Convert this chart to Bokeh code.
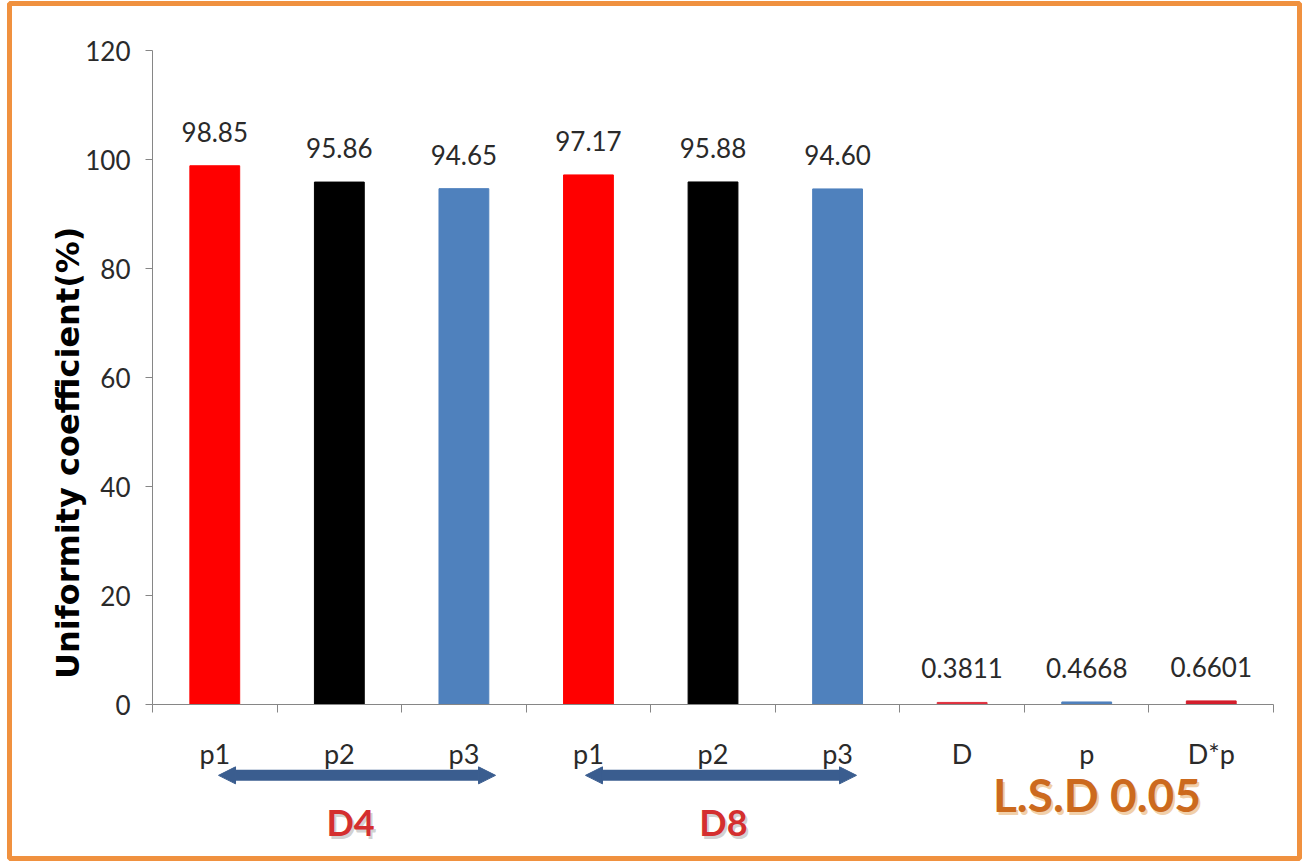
import math
from bokeh.plotting import figure
from bokeh.models import Range1d, FixedTicker, Label, Arrow, NormalHead, LinearAxis, BoxAnnotation
from bokeh.core.properties import value
from bokeh.embed import file_html
from bokeh.resources import INLINE

# ---- data ----
categories = ["p1", "p2", "p3", "p1", "p2", "p3", "D", "p", "D*p"]
uc_values = [98.85, 95.86, 94.65, 97.17, 95.88, 94.60, 0.3811, 0.4668, 0.6601]
value_labels = ["98.85", "95.86", "94.65", "97.17", "95.88", "94.60", "0.3811", "0.4668", "0.6601"]
bar_colors = ["#FF0000", "#000000", "#4F81BD", "#FF0000", "#000000", "#4F81BD",
              "#E0303E", "#4F81BD", "#D41E2C"]
y_ticks = [0, 20, 40, 60, 80, 100, 120]
group_labels = ["D4", "D8"]
lsd_label = "L.S.D  0.05"
y_title = "Uniformity coefficient(%)"

FONT = "Lato"
W, H = 1305, 868
PX_X = 124.56   # pixels per category
PX_Y = 5.45     # pixels per y unit
LEFT, BASE = 152, 704

xs = [i + 0.5 for i in range(len(categories))]
n = len(categories)

p = figure(width=W, height=H, output_backend="svg", toolbar_location=None,
           x_range=Range1d(-LEFT / PX_X, n + (W - LEFT - n * PX_X) / PX_X),
           y_range=Range1d(-(H - BASE) / PX_Y, BASE / PX_Y),
           x_axis_location=None, y_axis_location=None,
           min_border=0)
p.outline_line_color = None
p.grid.visible = False
p.background_fill_color = "white"
p.border_fill_color = "white"

p.vbar(x=xs, top=uc_values, width=0.4, color=bar_colors)

p.text(x=xs, y=uc_values, text=value_labels, y_offset=-34,
       text_align="center", text_baseline="alphabetic",
       text_font=value(FONT), text_font_size="26px", text_color="#2A2A2A")

# y axis
ya = LinearAxis(fixed_location=0, bounds=(0, 120), ticker=FixedTicker(ticks=y_ticks))
ya.axis_line_color = "#868686"
ya.major_tick_line_color = "#868686"
ya.major_tick_out = 7
ya.major_tick_in = 0
ya.minor_tick_line_color = None
ya.major_label_standoff = 15
ya.major_label_text_font = FONT
ya.major_label_text_font_size = "26px"
ya.major_label_text_color = "#2A2A2A"
p.add_layout(ya, "left")

# x axis: labels at centres, ticks at boundaries
xa = LinearAxis(fixed_location=0, bounds=(0, n),
                ticker=FixedTicker(ticks=xs, minor_ticks=list(range(n + 1))))
xa.major_label_overrides = {x: c for x, c in zip(xs, categories)}
xa.axis_line_color = "#868686"
xa.major_tick_line_color = None
xa.major_tick_out = 0
xa.major_tick_in = 0
xa.minor_tick_line_color = "#868686"
xa.minor_tick_out = 8
xa.minor_tick_in = 0
xa.major_label_standoff = 24
xa.major_label_text_font = FONT
xa.major_label_text_font_size = "27px"
xa.major_label_text_color = "#2A2A2A"
p.add_layout(xa, "below")

# y title
p.add_layout(Label(x=-0.675, y=46.2, text=y_title, angle=math.pi / 2,
                   text_align="center", text_baseline="middle",
                   text_font="DejaVu Sans", text_font_style="bold",
                   text_font_size="32px", text_color="#000000"))

# double-headed arrows under the group labels
arrow_spans = [(0.53, 2.754), (3.476, 5.652)]
for (a, b) in arrow_spans:
    p.add_layout(Arrow(x_start=a, y_start=-13.0, x_end=b, y_end=-13.0,
                       line_color="#3A5D8F", line_width=11,
                       start=NormalHead(size=17, fill_color="#3A5D8F", line_color="#3A5D8F", line_width=1),
                       end=NormalHead(size=17, fill_color="#3A5D8F", line_color="#3A5D8F", line_width=1)))

# group labels with soft shadow
for gx, gl in zip([1.59, 4.584], group_labels):
    p.add_layout(Label(x=gx, y=-21.65, text=gl, x_offset=2, y_offset=-3,
                       text_align="center", text_baseline="middle",
                       text_font=FONT, text_font_style="bold",
                       text_font_size="36px", text_color="#999999", text_alpha=0.45))
    p.add_layout(Label(x=gx, y=-21.65, text=gl,
                       text_align="center", text_baseline="middle",
                       text_font=FONT, text_font_style="bold",
                       text_font_size="36px", text_color="#D42F2F"))

p.add_layout(Label(x=7.627, y=-16.5, text=lsd_label, x_offset=2, y_offset=-3,
                   text_align="center", text_baseline="middle",
                   text_font=FONT, text_font_style="bold",
                   text_font_size="46px", text_color="#E8B070", text_alpha=0.6))
p.add_layout(Label(x=7.627, y=-16.5, text=lsd_label,
                   text_align="center", text_baseline="middle",
                   text_font=FONT, text_font_style="bold",
                   text_font_size="46px", text_color="#CC6A1E"))

# orange frame around the picture
p.add_layout(BoxAnnotation(left=9, right=W - 6, top=10, bottom=H - 3,
                           left_units="screen", right_units="screen",
                           top_units="screen", bottom_units="screen",
                           fill_alpha=0, line_alpha=1.0,
                           line_color="#F0913F", line_width=5))

open("out.html", "w").write(file_html(p, INLINE))
